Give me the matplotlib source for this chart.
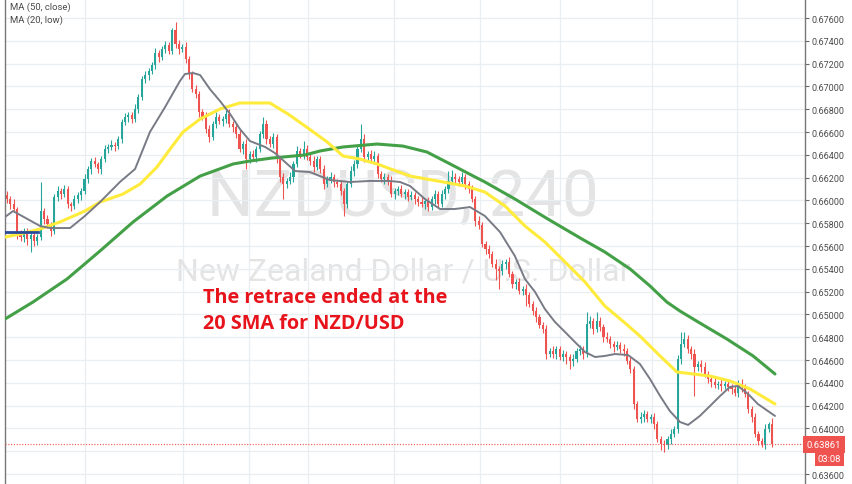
import matplotlib
matplotlib.use("Agg")
import matplotlib.pyplot as plt
import matplotlib.transforms as mtransforms
import numpy as np

plt.rcParams['font.family'] = ['Roboto', 'DejaVu Sans']

# NZDUSD 4h closes (one per candle)
closes = [
    0.66013, 0.65969, 0.65925, 0.65706, 0.65679, 0.65732, 0.65662, 0.65697, 0.65644, 0.65679,
    0.65907, 0.65837, 0.65793, 0.65732, 0.66030, 0.66083, 0.66056, 0.66100, 0.65969, 0.65951,
    0.66013, 0.66048, 0.66083, 0.66188, 0.66276, 0.66346, 0.66320, 0.66276, 0.66363, 0.66451,
    0.66469, 0.66486, 0.66477, 0.66539, 0.66688, 0.66732, 0.66749, 0.66714, 0.66802, 0.66907,
    0.67065, 0.67100, 0.67135, 0.67188, 0.67293, 0.67258, 0.67328, 0.67363, 0.67311, 0.67495,
    0.67372, 0.67328, 0.67346, 0.67240, 0.67109, 0.66977, 0.66934, 0.66776, 0.66732, 0.66627,
    0.66556, 0.66670, 0.66732, 0.66697, 0.66714, 0.66758, 0.66670, 0.66644, 0.66583, 0.66451,
    0.66495, 0.66363, 0.66407, 0.66381, 0.66451, 0.66583, 0.66670, 0.66539, 0.66495, 0.66556,
    0.66363, 0.66206, 0.66144, 0.66171, 0.66206, 0.66320, 0.66434, 0.66407, 0.66451, 0.66381,
    0.66346, 0.66293, 0.66363, 0.66276, 0.66144, 0.66188, 0.66206, 0.66162, 0.66144, 0.66083,
    0.65969, 0.66144, 0.66258, 0.66320, 0.66451, 0.66539, 0.66381, 0.66407, 0.66363, 0.66390,
    0.66232, 0.66188, 0.66206, 0.66171, 0.66056, 0.66083, 0.66100, 0.66056, 0.66074, 0.66030,
    0.66048, 0.66013, 0.65986, 0.65969, 0.65995, 0.65942, 0.66013, 0.66056, 0.65969, 0.66056,
    0.66100, 0.66171, 0.66206, 0.66188, 0.66162, 0.66206, 0.66144, 0.66100, 0.66013, 0.65820,
    0.65785, 0.65618, 0.65574, 0.65530, 0.65443, 0.65399, 0.65381, 0.65443, 0.65460, 0.65355,
    0.65267, 0.65285, 0.65206, 0.65223, 0.65171, 0.65092, 0.65030, 0.64978, 0.64908, 0.64873,
    0.64653, 0.64680, 0.64653, 0.64697, 0.64627, 0.64653, 0.64627, 0.64592, 0.64609, 0.64680,
    0.64697, 0.64653, 0.64916, 0.64943, 0.64873, 0.64943, 0.64890, 0.64802, 0.64785, 0.64741,
    0.64715, 0.64732, 0.64697, 0.64680, 0.64592, 0.64522, 0.64215, 0.64083, 0.64101, 0.64127,
    0.64083, 0.64101, 0.64039, 0.63908, 0.63864, 0.63855, 0.63908, 0.63952, 0.63996, 0.64609,
    0.64741, 0.64785, 0.64697, 0.64653, 0.64539, 0.64566, 0.64539, 0.64478, 0.64434, 0.64408,
    0.64381, 0.64390, 0.64373, 0.64390, 0.64364, 0.64346, 0.64311, 0.64390, 0.64364, 0.64303,
    0.64171, 0.64101, 0.63952, 0.63890, 0.63864, 0.63996, 0.64039, 0.63861,
]
first_open = 0.66050

# wick lengths above / below the body, in points (1e-5)
wick_up = [
    30, 25, 40, 20, 35, 30, 25, 40, 30, 25, 255, 30, 35, 20, 30, 40, 25, 35, 30, 20,
    35, 25, 30, 40, 30, 25, 35, 20, 30, 35, 25, 40, 30, 25, 30, 35, 25, 30, 40, 25,
    30, 35, 25, 30, 40, 30, 25, 35, 30, 20, 70, 35, 30, 40, 25, 30, 35, 25, 30, 40,
    35, 30, 45, 25, 30, 35, 40, 30, 25, 35, 30, 40, 25, 35, 30, 25, 60, 35, 30, 40,
    30, 25, 35, 30, 40, 30, 45, 30, 70, 35, 30, 40, 30, 25, 35, 30, 40, 25, 30, 35,
    25, 30, 40, 35, 30, 130, 40, 30, 35, 45, 30, 25, 35, 30, 40, 30, 25, 35, 30, 25,
    35, 30, 25, 40, 30, 35, 30, 40, 25, 35, 30, 90, 60, 35, 30, 40, 25, 30, 35, 30,
    40, 30, 25, 35, 30, 40, 25, 35, 30, 45, 30, 25, 35, 30, 40, 30, 25, 35, 30, 25,
    35, 30, 40, 25, 30, 35, 30, 25, 40, 30, 35, 30, 105, 45, 30, 80, 35, 30, 40, 25,
    30, 35, 25, 40, 30, 35, 25, 30, 40, 35, 30, 25, 35, 30, 25, 35, 30, 40, 30, 35,
    105, 60, 35, 30, 40, 30, 35, 45, 30, 25, 35, 30, 40, 30, 35, 25, 30, 35, 40, 30,
    25, 30, 35, 25, 30, 40, 20, 50,
]
wick_dn = [
    35, 40, 30, 45, 35, 40, 50, 114, 40, 35, 30, 40, 35, 45, 30, 35, 40, 30, 35, 40,
    30, 35, 40, 30, 35, 40, 30, 35, 40, 30, 35, 25, 40, 30, 35, 30, 40, 35, 30, 35,
    30, 35, 40, 30, 35, 40, 30, 35, 30, 25, 35, 40, 30, 35, 40, 30, 35, 40, 30, 35,
    40, 30, 35, 30, 40, 35, 30, 40, 35, 30, 40, 87, 35, 30, 40, 30, 35, 40, 30, 35,
    35, 40, 130, 35, 30, 40, 30, 35, 40, 30, 35, 40, 30, 35, 40, 30, 35, 40, 30, 35,
    105, 35, 30, 40, 35, 30, 40, 35, 30, 40, 35, 30, 40, 35, 30, 40, 35, 30, 40, 35,
    30, 40, 35, 30, 40, 35, 30, 40, 35, 30, 40, 35, 30, 40, 35, 30, 40, 35, 30, 40,
    35, 30, 40, 35, 30, 100, 158, 35, 40, 30, 35, 40, 30, 35, 97, 30, 35, 40, 30, 35,
    40, 30, 35, 40, 30, 35, 60, 70, 40, 30, 35, 40, 30, 35, 40, 30, 35, 40, 30, 35,
    40, 30, 35, 40, 30, 35, 40, 30, 35, 40, 30, 35, 40, 30, 55, 61, 35, 40, 30, 35,
    40, 30, 35, 40, 250, 35, 40, 30, 35, 40, 30, 35, 40, 30, 35, 40, 30, 35, 40, 30,
    35, 40, 30, 35, 25, 40, 30, 25,
]

# moving averages, sampled along the lines (bar index, price)
fast_idx = [-0.6, 1.8, 9.8, 12.8, 18.7, 23.1, 27.6, 33.5, 38.0, 42.4, 46.9, 51.3, 52.8, 55.2,
            57.3, 60.2, 63.2, 66.2, 69.1, 72.1, 76.6, 79.5, 82.5, 85.5, 89.9, 95.8, 101.8,
            107.7, 113.6, 116.6, 119.6, 124.0, 128.5, 132.9, 137.4, 141.8, 146.3, 150.7,
            153.7, 156.7, 159.6, 162.6, 165.6, 168.5, 171.5, 174.5, 177.4, 180.4, 184.3,
            187.8, 190.8, 193.8, 196.7, 199.7, 202.1, 205.6, 208.6, 211.6, 214.5, 216.9,
            219.9, 222.8, 225.8, 227.9]
fast_val = [0.65855, 0.65907, 0.65776, 0.65758, 0.65758, 0.65864, 0.65986, 0.66162, 0.66276,
            0.66600, 0.66819, 0.67047, 0.67109, 0.67118, 0.67100, 0.66977, 0.66872, 0.66758,
            0.66627, 0.66521, 0.66469, 0.66416, 0.66337, 0.66258, 0.66249, 0.66179, 0.66162,
            0.66171, 0.66171, 0.66162, 0.66127, 0.66013, 0.65925, 0.65925, 0.65942, 0.65864,
            0.65723, 0.65513, 0.65311, 0.65197, 0.65048, 0.64934, 0.64846, 0.64759, 0.64671,
            0.64627, 0.64636, 0.64653, 0.64644, 0.64566, 0.64434, 0.64285, 0.64153, 0.64057,
            0.64031, 0.64110, 0.64197, 0.64285, 0.64364, 0.64373, 0.64303, 0.64215, 0.64153,
            0.64110]

mid_idx = [-0.6, 3.9, 9.8, 15.7, 23.1, 27.6, 34.4, 39.5, 44.5, 48.4, 52.2, 57.3, 63.2, 69.1,
           78.0, 83.4, 89.3, 95.0, 99.7, 104.7, 109.8, 119.6, 129.4, 135.9, 141.8, 147.8,
           153.7, 159.6, 165.6, 171.5, 177.4, 183.4, 187.8, 193.8, 198.8, 203.6, 208.6,
           214.5, 220.5, 227.9]
mid_val = [0.65679, 0.65706, 0.65750, 0.65811, 0.65907, 0.65986, 0.66056, 0.66144, 0.66293,
           0.66451, 0.66600, 0.66714, 0.66802, 0.66855, 0.66855, 0.66758, 0.66635, 0.66513,
           0.66390, 0.66363, 0.66320, 0.66214, 0.66162, 0.66127, 0.66074, 0.65951, 0.65776,
           0.65636, 0.65460, 0.65285, 0.65074, 0.64925, 0.64811, 0.64636, 0.64495, 0.64478,
           0.64460, 0.64417, 0.64346, 0.64215]

slow_idx = [-0.6, 7.7, 17.8, 27.6, 37.4, 47.5, 57.3, 67.1, 72.1, 78.6, 88.4, 92.9, 99.7,
            109.8, 117.5, 124.6, 131.5, 138.9, 141.8, 150.7, 160.5, 170.6, 177.4, 184.9,
            190.8, 195.8, 199.7, 205.6, 213.6, 221.4, 227.9]
slow_val = [0.64960, 0.65109, 0.65311, 0.65557, 0.65811, 0.66039, 0.66214, 0.66320, 0.66346,
            0.66372, 0.66399, 0.66434, 0.66469, 0.66495, 0.66477, 0.66425, 0.66320, 0.66206,
            0.66162, 0.66013, 0.65837, 0.65662, 0.65548, 0.65399, 0.65250, 0.65109, 0.65030,
            0.64925, 0.64785, 0.64636, 0.64478]

old_level = 0.65723
last_price = 0.63861
price_ticks = np.arange(0.636, 0.6761, 0.002)

UP = '#26a69a'
DOWN = '#ef5350'

opens = [first_open] + closes[:-1]
n = len(closes)
xs = np.arange(n)
highs = [max(o, c) + u * 1e-5 for o, c, u in zip(opens, closes, wick_up)]
lows = [min(o, c) - d * 1e-5 for o, c, d in zip(opens, closes, wick_dn)]
colors = [UP if c >= o else DOWN for o, c in zip(opens, closes)]

fig = plt.figure(figsize=(8.52, 4.85), dpi=100)
ax = fig.add_axes([5 / 852, 0, 800 / 852, 1])
ax.set_xlim(-0.6, 236.8)
ax.set_ylim(0.63513, 0.67767)

# grid
ax.set_yticks(price_ticks)
ax.grid(axis='y', color='#e9eef3', lw=0.9, zorder=0)
for gx in [23.1, 52.2, 71.8, 89.3, 114.8, 140.4, 164.1, 191.4, 216.6]:
    ax.axvline(gx, color='#e9eef3', lw=0.9, zorder=0)

# watermark, behind the candles
ax.text((403 - 5) / 800, 1 - 198 / 485, 'NZDUSD, 240', transform=ax.transAxes,
        ha='center', va='center', fontsize=47, color='#e4e4e4', zorder=1)
ax.text((403 - 5) / 800, 1 - 272 / 485, 'New Zealand Dollar / U.S. Dollar',
        transform=ax.transAxes, ha='center', va='center', fontsize=23,
        color='#e4e4e4', zorder=1)

# candles
ax.vlines(xs, lows, highs, colors=colors, lw=0.8, zorder=2)
bottoms = [min(o, c) for o, c in zip(opens, closes)]
heights = [max(abs(c - o), 0.00003) for o, c in zip(opens, closes)]
ax.bar(xs, heights, bottom=bottoms, width=0.62, color=colors, lw=0, zorder=2)

# moving averages
ax.plot(slow_idx, slow_val, color='#43a047', lw=2.2, zorder=3, solid_capstyle='round')
ax.plot(mid_idx, mid_val, color='#ffeb3b', lw=2.2, zorder=3, solid_capstyle='round')
ax.plot(fast_idx, fast_val, color='#787b86', lw=1.4, zorder=4, solid_capstyle='round')
ax.plot([-0.6, 9.3], [old_level, old_level], color='#2a4a9a', lw=2, zorder=3)

# last price line
ax.axhline(last_price, color=DOWN, lw=0.8, ls=(0, (1, 1.5)), zorder=3)

# axes look
ax.yaxis.tick_right()
ax.yaxis.set_major_formatter(plt.FormatStrFormatter('%.5f'))
ax.tick_params(axis='y', labelsize=6.5, labelcolor='#4a4a4a', color='#666666',
               length=3, width=0.8, pad=2)
ax.set_xticks([])
for side in ['top', 'bottom']:
    ax.spines[side].set_visible(False)
for side in ['left', 'right']:
    ax.spines[side].set_color('#777777')
    ax.spines[side].set_linewidth(1)
# the 0.63800 label sits under the last-price boxes
fig.canvas.draw()
for lab in ax.get_yticklabels():
    if lab.get_text() == '0.63800':
        lab.set_visible(False)

# legend text
ax.text(0.006, 0.986, 'MA (50, close)', transform=ax.transAxes, fontsize=6.8,
        color='#4a4a4a', va='center')
ax.text(0.006, 0.959, 'MA (20, low)', transform=ax.transAxes, fontsize=6.8,
        color='#4a4a4a', va='center')

# annotation
ax.text(58.2, 0.65040, 'The retrace ended at the\n20 SMA for NZD/USD', fontsize=14.3,
        fontweight='bold', color='#e8141c', va='center', ha='left', linespacing=1.45,
        family=['Open Sans', 'DejaVu Sans'], zorder=5)

# price label on the scale
trans = mtransforms.blended_transform_factory(ax.transAxes, ax.transData)
ax.text(1.002, last_price, '0.63861', transform=trans, fontsize=6.8, color='white',
        va='center', ha='left', clip_on=False, zorder=6,
        bbox=dict(boxstyle='square,pad=0.4', fc=DOWN, ec='none'))
ax.text(1.016, last_price - 0.00124, '03:08', transform=trans, fontsize=6.8,
        color='white', va='center', ha='left', clip_on=False, zorder=6,
        bbox=dict(boxstyle='square,pad=0.3', fc=DOWN, ec='none'))

fig.savefig('out.png', dpi=100)
